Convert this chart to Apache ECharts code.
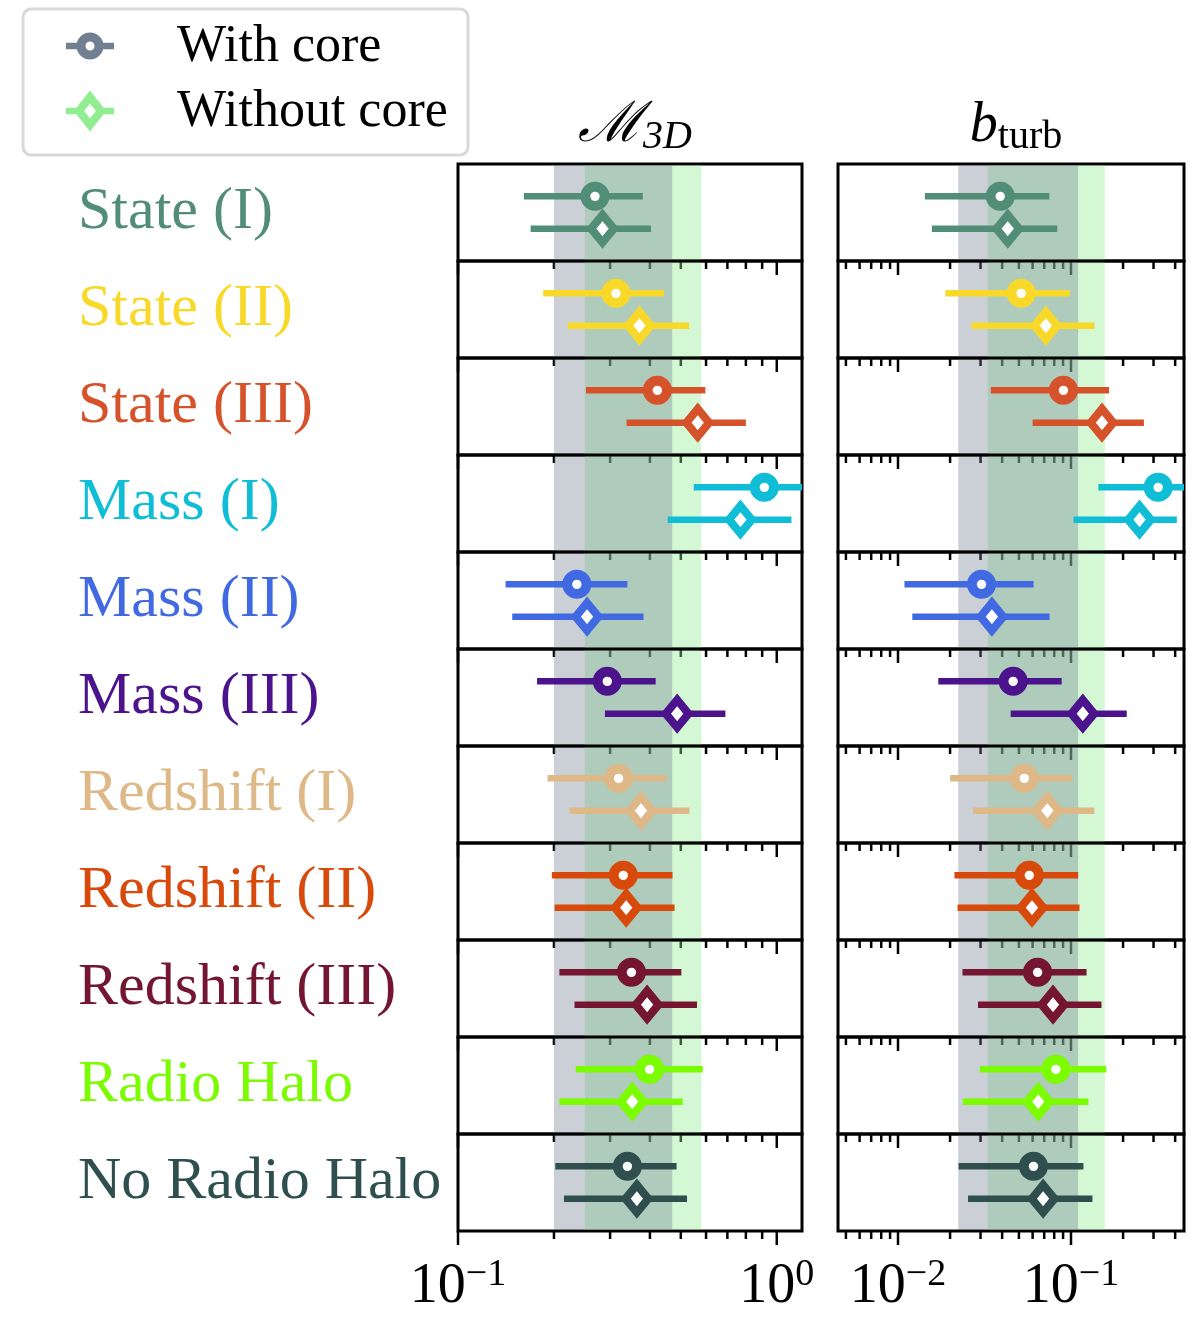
<!DOCTYPE html>
<html><head><meta charset="utf-8">
<script src="https://cdn.jsdelivr.net/npm/echarts@6/dist/echarts.min.js"></script>
<style>html,body{margin:0;padding:0;background:#fff}#c{width:1200px;height:1325px}</style>
</head><body><div id="c"></div>
<script>
// ---------------- data ----------------
const categories = ['State (I)', 'State (II)', 'State (III)', 'Mass (I)', 'Mass (II)', 'Mass (III)',
  'Redshift (I)', 'Redshift (II)', 'Redshift (III)', 'Radio Halo', 'No Radio Halo'];
const colors = ['#528d77', '#f8d92a', '#d6522a', '#10bdd6', '#4169e1', '#4c148c',
  '#deb887', '#d84a0c', '#741532', '#7cfc00', '#2f4f4f'];
// [centre, lower end, upper end]
const machWithCore = [[0.269,0.161,0.380],[0.313,0.185,0.443],[0.422,0.252,0.597],[0.914,0.549,1.5],
  [0.236,0.141,0.340],[0.294,0.177,0.417],[0.319,0.191,0.452],[0.330,0.197,0.471],[0.350,0.208,0.502],
  [0.399,0.234,0.586],[0.340,0.202,0.485]];
const machWithoutCore = [[0.284,0.169,0.403],[0.371,0.221,0.531],[0.565,0.338,0.800],[0.769,0.455,1.112],
  [0.254,0.148,0.382],[0.487,0.289,0.690],[0.375,0.224,0.532],[0.337,0.201,0.478],[0.392,0.232,0.562],
  [0.352,0.208,0.507],[0.364,0.215,0.523]];
const bWithCore = [[0.0390,0.0143,0.0750],[0.0515,0.0188,0.0986],[0.0904,0.0344,0.166],[0.319,0.144,0.6],
  [0.0304,0.0109,0.0608],[0.0463,0.0171,0.0883],[0.0537,0.0200,0.102],[0.0574,0.0212,0.110],
  [0.0641,0.0236,0.123],[0.0818,0.0297,0.160],[0.0607,0.0224,0.118]];
const bWithoutCore = [[0.0431,0.0157,0.0833],[0.0716,0.0266,0.1365],[0.151,0.060,0.264],[0.249,0.1035,0.409],
  [0.0349,0.0121,0.0752],[0.117,0.0448,0.210],[0.073,0.0272,0.1365],[0.0595,0.0221,0.112],
  [0.0787,0.0290,0.150],[0.0647,0.0237,0.126],[0.069,0.0254,0.133]];
const machGreyBand = [0.2, 0.47];
const machGreenBand = [0.25, 0.58];
const bGreyBand = [0.0223, 0.110];
const bGreenBand = [0.033, 0.157];
const machRange = [0.1, 1.2];
const bRange = [0.0045, 0.45];
const machMajorTicks = [0.1, 1];
const machMinorTicks = [0.2,0.3,0.4,0.5,0.6,0.7,0.8,0.9];
const bMajorTicks = [0.01, 0.1];
const bMinorTicks = [0.005,0.006,0.007,0.008,0.009,0.02,0.03,0.04,0.05,0.06,0.07,0.08,0.09,0.2,0.3,0.4];
const legendLabels = ['With core', 'Without core'];

// ---------------- layout ----------------
const TOP = 164, ROWH = 97;
const panels = [
  {left: 458, width: 344, range: machRange, withC: machWithCore, withoutC: machWithoutCore,
   grey: machGreyBand, green: machGreenBand, major: machMajorTicks, minor: machMinorTicks},
  {left: 838, width: 346, range: bRange, withC: bWithCore, withoutC: bWithoutCore,
   grey: bGreyBand, green: bGreenBand, major: bMajorTicks, minor: bMinorTicks}
];
const SERIF = 'Liberation Serif';

const grids = [], xAxes = [], yAxes = [], series = [];
const N = categories.length;
let gi = 0;
panels.forEach((P, pi) => {
  for (let r = 0; r < N; r++) {
    const last = r === N - 1;
    grids.push({left: P.left, top: TOP + ROWH * r, width: P.width, height: ROWH,
      show: true, borderColor: '#000', borderWidth: 3, backgroundColor: 'transparent', containLabel: false});
    xAxes.push({gridIndex: gi, type: 'log', logBase: 10, min: P.range[0], max: P.range[1],
      axisLine: {show: false}, axisTick: {show: false}, splitLine: {show: false},
      axisLabel: {show: last, margin: 25,
        formatter: v => {
          const e = Math.log10(v);
          if (Math.abs(e - Math.round(e)) > 1e-6) return '';
          const ex = String(Math.round(e)).replace('-', '\u2212');
          return '{a|10}{e|' + ex + '}';
        },
        rich: {
          a: {fontFamily: SERIF, fontSize: 56, lineHeight: 62, color: '#000'},
          e: {fontFamily: SERIF, fontSize: 38, lineHeight: 38, padding: [0, 0, 24, 0], color: '#000'}
        }}});
    yAxes.push({gridIndex: gi, type: 'value', min: 0, max: 3, interval: 1.5,
      axisLine: {show: false}, axisTick: {show: false}, splitLine: {show: false},
      axisLabel: {show: pi === 0, align: 'left', margin: 380, fontFamily: SERIF, fontSize: 60,
        color: colors[r], formatter: v => (v === 1.5 ? categories[r] : '')}});

    // ticks (outward on the bottom edge)
    const tickData = P.major.map(v => [v, 1, 0]).concat(P.minor.map(v => [v, 0, 0]));
    series.push({type: 'custom', xAxisIndex: gi, yAxisIndex: gi, z: 1, silent: true,
      encode: {x: 0, y: 2}, data: tickData,
      renderItem: (params, api) => {
        const p = api.coord([api.value(0), 0]);
        const len = api.value(1) ? 14 : 8;
        return {type: 'line', shape: {x1: p[0], y1: p[1], x2: p[0], y2: p[1] + len},
          style: {stroke: '#000', lineWidth: 2.5}};
      }});
    // bands: green then grey on top
    [[P.green, 'rgba(144,238,144,0.39)', 2], [P.grey, 'rgba(112,128,144,0.37)', 3]].forEach(([b, col, z]) => {
      series.push({type: 'custom', xAxisIndex: gi, yAxisIndex: gi, z: z, silent: true,
        encode: {x: [0, 1], y: 2}, data: [[b[0], b[1], 0]],
        renderItem: (params, api) => {
          const p1 = api.coord([api.value(0), 0]);
          const p2 = api.coord([api.value(1), 3]);
          return {type: 'rect', shape: {x: p1[0], y: p2[1] + 1.5, width: p2[0] - p1[0], height: p1[1] - p2[1] - 3},
            style: {fill: col}};
        }});
    });
    // error bars + markers (centre, lo, hi, y)
    const sets = [[P.withC[r], 2, 'circle'], [P.withoutC[r], 1, 'diamond']];
    sets.forEach(([d, yv, sym]) => {
      series.push({type: 'custom', xAxisIndex: gi, yAxisIndex: gi, z: 4, silent: true,
        encode: {x: [0, 1, 2], y: 3}, data: [[d[0], d[1], d[2], yv]],
        renderItem: (params, api) => {
          const cs = params.coordSys;
          const c = api.coord([api.value(0), api.value(3)]);
          const a = api.coord([api.value(1), api.value(3)]);
          const b = api.coord([api.value(2), api.value(3)]);
          const x1 = Math.max(a[0], cs.x), x2 = Math.min(b[0], cs.x + cs.width);
          const col = colors[r];
          const marker = sym === 'circle'
            ? {type: 'circle', shape: {cx: c[0], cy: c[1], r: 9.6}, style: {fill: '#fff', stroke: col, lineWidth: 9.8}}
            : {type: 'polygon', shape: {points: [[c[0], c[1] - 13.8], [c[0] + 11.4, c[1]], [c[0], c[1] + 13.8], [c[0] - 11.4, c[1]]]},
               style: {fill: '#fff', stroke: col, lineWidth: 8, lineJoin: 'miter'}};
          return {type: 'group', children: [
            {type: 'line', shape: {x1: x1, y1: c[1], x2: x2, y2: c[1]}, style: {stroke: col, lineWidth: 6.5}},
            marker
          ]};
        }});
    });
    gi++;
  }
});

const option = {
  animation: false,
  backgroundColor: '#fff',
  grid: grids, xAxis: xAxes, yAxis: yAxes, series: series,
  title: [
    {left: 630, top: 90, textAlign: 'center',
     text: '{m|\u2133}{s|3D}',
     textStyle: {fontWeight: 'normal', rich: {
       m: {fontFamily: 'DejaVu Serif', fontStyle: 'italic', fontWeight: 'normal', fontSize: 56, lineHeight: 62, color: '#000'},
       s: {fontFamily: SERIF, fontStyle: 'italic', fontWeight: 'normal', fontSize: 40, lineHeight: 40, padding: [22, 0, 0, 0], color: '#000'}}}},
    {left: 1011, top: 90, textAlign: 'center',
     text: '{m|b}{s|turb}',
     textStyle: {fontWeight: 'normal', rich: {
       m: {fontFamily: SERIF, fontStyle: 'italic', fontWeight: 'normal', fontSize: 56, lineHeight: 62, color: '#000'},
       s: {fontFamily: SERIF, fontWeight: 'normal', fontSize: 40, lineHeight: 40, padding: [22, 0, 0, 0], color: '#000'}}}}
  ],
  graphic: [
    {type: 'rect', shape: {x: 23, y: 9, width: 445, height: 146, r: 8},
     style: {fill: '#fff', stroke: '#d9d9d9', lineWidth: 3}, z: 10},
    {type: 'line', shape: {x1: 66, y1: 46, x2: 114, y2: 46}, style: {stroke: '#708090', lineWidth: 6.5}, z: 11},
    {type: 'circle', shape: {cx: 90, cy: 46, r: 9}, style: {fill: '#fff', stroke: '#708090', lineWidth: 9}, z: 12},
    {type: 'line', shape: {x1: 66, y1: 111, x2: 114, y2: 111}, style: {stroke: '#90ee90', lineWidth: 6.5}, z: 11},
    {type: 'polygon', shape: {points: [[90, 97], [101, 111], [90, 125], [79, 111]]},
     style: {fill: '#fff', stroke: '#90ee90', lineWidth: 8}, z: 12},
    {type: 'text', x: 177, y: 47, z: 12,
     style: {text: legendLabels[0], fontFamily: SERIF, fontSize: 52, fill: '#000', verticalAlign: 'middle'}},
    {type: 'text', x: 177, y: 112, z: 12,
     style: {text: legendLabels[1], fontFamily: SERIF, fontSize: 52, fill: '#000', verticalAlign: 'middle'}}
  ]
};
const chart = echarts.init(document.getElementById('c'), null, {renderer: 'canvas'});
chart.setOption(option);
</script>
</body></html>
